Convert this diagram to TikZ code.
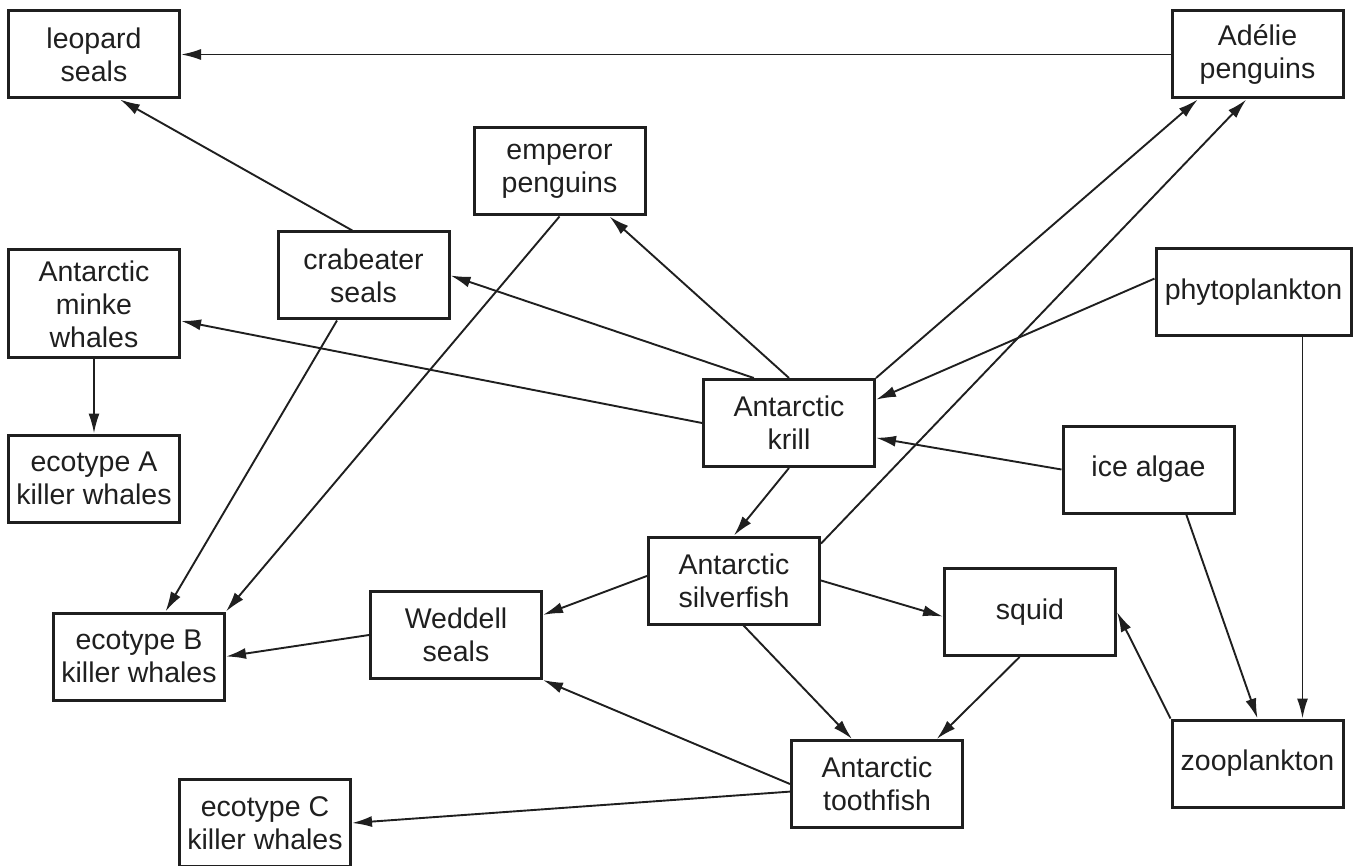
\documentclass[tikz,border=0pt]{standalone}
\usepackage{fontspec}
\setmainfont{Liberation Sans}
\usetikzlibrary{arrows.meta}

\begin{document}
\begin{tikzpicture}[->,>={Latex[length=20pt,width=11pt]},x=1pt,y=-1pt,
  line width=1.9pt,color=black!88,
  main node/.style={rectangle,draw,line width=3pt,minimum width=171pt,
    minimum height=87pt,inner sep=2pt,align=center,
    font=\fontsize{28.5}{33}\selectfont}]

  \useasboundingbox (0,0) rectangle (1360,866);

  \node[main node] (leopard) at (94,54.5) {leopard\\seals};
  \node[main node] (adelie) at (1257.5,54.5) {Adélie\\penguins};
  \node[main node] (emperor) at (559.5,171.5) {emperor\\penguins};
  \node[main node] (crab) at (363.5,275.5) {crabeater\\seals};
  \node[main node,minimum height=108pt] (minke) at (94,304) {Antarctic\\minke\\whales};
  \node[main node] (ecoA) at (94,478.5) {ecotype A\\killer whales};
  \node[main node,minimum width=195pt] (phyto) at (1253.5,292.5) {phytoplankton};
  \node[main node] (krill) at (789,423) {Antarctic\\krill};
  \node[main node] (ice) at (1148.5,469.5) {ice algae};
  \node[main node] (silver) at (734,580.5) {Antarctic\\silverfish};
  \node[main node] (weddell) at (456,635) {Weddell\\seals};
  \node[main node] (squid) at (1030,612) {squid};
  \node[main node] (ecoB) at (139,656.5) {ecotype B\\killer whales};
  \node[main node] (zoo) at (1257.5,763.5) {zooplankton};
  \node[main node] (tooth) at (877,784) {Antarctic\\toothfish};
  \node[main node] (ecoC) at (265,823) {ecotype C\\killer whales};

  \path
    (adelie) edge (leopard)
    (crab.104) edge (leopard.-60)
    (krill.north) edge (emperor.-42)
    (krill.128) edge (crab.east)
    (krill.west) edge (minke)
    (minke) edge (ecoA)
    (crab) edge (ecoB)
    (emperor.south) edge (ecoB.north east)
    (krill.north east) edge (adelie.-143)
    (silver.23) edge (adelie.-104)
    (phyto.172) edge (krill.15)
    (ice.west) edge (krill)
    (phyto.south -| zoo.45) edge (zoo.45)
    (ice.-50) edge (zoo.north)
    (zoo.north west) edge (squid.east)
    (krill.south) edge (silver.north)
    (silver.177) edge (weddell.13)
    (silver.east) edge (squid.183)
    (silver.-78) edge (tooth.119)
    (squid.-103) edge (tooth.37)
    (weddell.west) edge (ecoB.east)
    (tooth.west) edge (weddell.south east)
    (tooth.185) edge (ecoC.east);
\end{tikzpicture}
\end{document}
